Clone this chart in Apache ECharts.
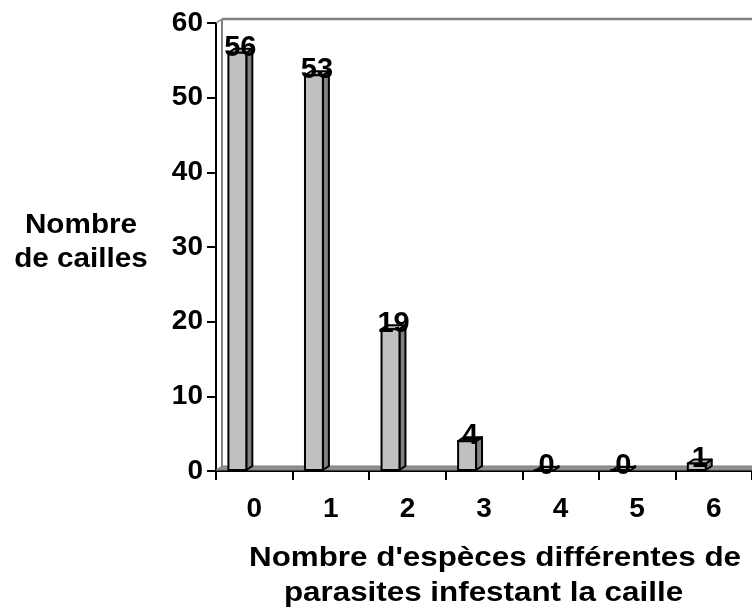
<!DOCTYPE html>
<html>
<head>
<meta charset="utf-8">
<script src="https://cdn.jsdelivr.net/npm/echarts@6/dist/echarts.min.js"></script>
<style>
html,body{margin:0;padding:0;background:#fff;}
#chart{width:752px;height:615px;}
</style>
</head>
<body>
<div id="chart"></div>
<script>
const categories = ['0', '1', '2', '3', '4', '5', '6'];
const counts = [56, 53, 19, 4, 0, 0, 1];
const yMin = 0, yMax = 60, yStep = 10;
const yTitleLines = ['Nombre', 'de cailles'];
const xTitleLines = ["Nombre d'espèces différentes de", 'parasites infestant la caille'];

const FONT = '"Liberation Sans", Arial, sans-serif';
const DX = 6, DY = 4;

const chart = echarts.init(document.getElementById('chart'), null, {renderer: 'canvas'});

function renderWalls(params, api) {
  const bw = api.size([1, 0])[0];
  const p0 = api.coord([0, yMin]);
  const pT = api.coord([0, yMax]);
  const L = p0[0] - bw / 2;
  const R = L + categories.length * bw;
  const B = p0[1];
  const T = pT[1];
  return {
    type: 'group',
    children: [
      {type: 'polygon', shape: {points: [[L, B - 1], [L + DX, B - 1 - DY], [R + DX, B - 1 - DY], [R, B - 1]]},
       style: {fill: '#8f8f8f', stroke: '#808080', lineWidth: 1}},
      {type: 'line', shape: {x1: L + DX, y1: T - DY, x2: R + DX, y2: T - DY},
       style: {stroke: '#808080', lineWidth: 2.5}},
      {type: 'line', shape: {x1: L + DX, y1: T - DY, x2: L + DX, y2: B - 1 - DY},
       style: {stroke: '#808080', lineWidth: 2}},
      {type: 'line', shape: {x1: L, y1: T, x2: L + DX, y2: T - DY},
       style: {stroke: '#808080', lineWidth: 1.5}}
    ]
  };
}

function renderBar(params, api) {
  const i = api.value(0), v = api.value(1);
  const base = api.coord([i, 0]);
  const top = api.coord([i, v]);
  const bw = api.size([1, 0])[0];
  const fl = base[0] - bw * 0.338;
  const fr = fl + bw * 0.234;
  const ty = top[1], by = base[1] - 1;
  return {
    type: 'group',
    children: [
      {type: 'polygon', shape: {points: [[fr, ty], [fr + DX, ty - DY], [fr + DX, by - DY], [fr, by]]},
       style: {fill: '#808080', stroke: '#000', lineWidth: 2, lineJoin: 'round'}},
      {type: 'polygon', shape: {points: [[fl, ty], [fl + DX, ty - DY], [fr + DX, ty - DY], [fr, ty]]},
       style: {fill: '#c0c0c0', stroke: '#000', lineWidth: 2, lineJoin: 'round'}},
      {type: 'rect', shape: {x: fl, y: ty, width: fr - fl, height: by - ty},
       style: {fill: '#c0c0c0', stroke: '#000', lineWidth: 2}},
      {type: 'text', x: (fl + fr) / 2 + DX / 2, y: ty - 5,
       style: {text: String(v), align: 'center', verticalAlign: 'middle',
               font: 'bold 29px ' + FONT, fill: '#000'}}
    ]
  };
}

const option = {
  animation: false,
  backgroundColor: '#fff',
  grid: {left: 216, top: 23, width: 539, height: 448, containLabel: false},
  xAxis: {
    type: 'category',
    data: categories,
    boundaryGap: true,
    axisLine: {lineStyle: {color: '#000', width: 2}},
    axisTick: {show: true, length: 9, lineStyle: {color: '#000', width: 2}},
    axisLabel: {color: '#000', fontSize: 28, fontWeight: 'bold', fontFamily: FONT, margin: 24},
    splitLine: {show: false}
  },
  yAxis: {
    type: 'value',
    min: yMin, max: yMax, interval: yStep,
    axisLine: {show: true, lineStyle: {color: '#000', width: 2}},
    axisTick: {show: true, length: 9, lineStyle: {color: '#000', width: 2}},
    axisLabel: {color: '#000', fontSize: 28, fontWeight: 'bold', fontFamily: FONT, margin: 13},
    splitLine: {show: false}
  },
  graphic: [
    {type: 'text', x: 81, y: 225, scaleX: 1.06,
     style: {text: yTitleLines[0], align: 'center', verticalAlign: 'middle', font: 'bold 28px ' + FONT, fill: '#000'}},
    {type: 'text', x: 81, y: 259, scaleX: 1.06,
     style: {text: yTitleLines[1], align: 'center', verticalAlign: 'middle', font: 'bold 28px ' + FONT, fill: '#000'}},
    {type: 'text', x: 495, y: 558, scaleX: 1.12,
     style: {text: xTitleLines[0], align: 'center', verticalAlign: 'middle', font: 'bold 28px ' + FONT, fill: '#000'}},
    {type: 'text', x: 483.5, y: 593, scaleX: 1.12,
     style: {text: xTitleLines[1], align: 'center', verticalAlign: 'middle', font: 'bold 28px ' + FONT, fill: '#000'}}
  ],
  series: [
    {type: 'custom', name: 'walls', renderItem: renderWalls, data: [[0, 0]], z: 1, silent: true,
     encode: {x: 0, y: 1}},
    {type: 'custom', name: 'Nombre de cailles', renderItem: renderBar, z: 3,
     data: counts.map((v, i) => [i, v]), encode: {x: 0, y: 1}}
  ]
};
chart.setOption(option);
</script>
</body>
</html>
